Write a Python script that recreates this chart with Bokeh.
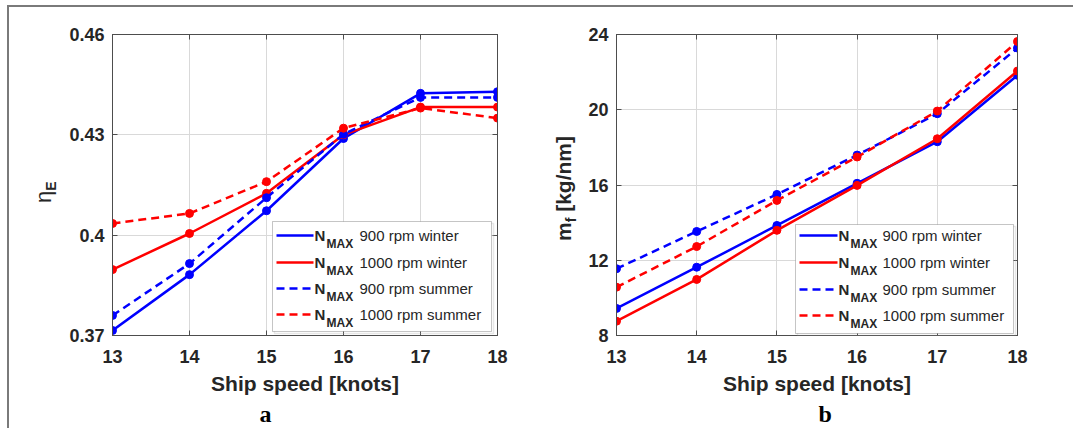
from bokeh.plotting import figure
from bokeh.models import (Range1d, LinearAxis, FixedTicker, Label, BoxAnnotation, Arrow,
                          Title, Div, InlineStyleSheet)
from bokeh.layouts import row
from bokeh.embed import file_html
from bokeh.resources import INLINE

# ---------------- data ----------------
speed = [13, 14, 15, 16, 17, 18]

eta_900_winter = [0.3715, 0.3882, 0.4073, 0.4289, 0.4424, 0.4429]
eta_1000_winter = [0.3897, 0.4005, 0.4125, 0.4300, 0.4383, 0.4383]
eta_900_summer = [0.3760, 0.3915, 0.4112, 0.4302, 0.4412, 0.4412]
eta_1000_summer = [0.4035, 0.4065, 0.4160, 0.4320, 0.4380, 0.4350]

mf_900_winter = [9.44, 11.63, 13.85, 16.09, 18.30, 21.83]
mf_1000_winter = [8.76, 10.98, 13.59, 15.98, 18.46, 22.06]
mf_900_summer = [11.55, 13.53, 15.50, 17.59, 19.79, 23.28]
mf_1000_summer = [10.57, 12.73, 15.18, 17.49, 19.93, 23.63]

x_ticks = [13, 14, 15, 16, 17, 18]
eta_ticks = [0.37, 0.40, 0.43, 0.46]
eta_tick_labels = {0.37: "0.37", 0.40: "0.4", 0.43: "0.43", 0.46: "0.46"}
mf_ticks = [8, 12, 16, 20, 24]

legend_names = ["900 rpm winter", "1000 rpm winter", "900 rpm summer", "1000 rpm summer"]
x_label = "Ship speed [knots]"

BLUE = "#0000ff"
RED = "#ff0000"
TXT = "#262626"
AX = "#4d4d4d"
SANS = "Liberation Sans"

styles = [(BLUE, "solid"), (RED, "solid"), (BLUE, "8 5"), (RED, "8 5")]


def make_fig(width, height, bl, bt, fw, fh, ymin, ymax, yticks, ylabels=None):
    p = figure(width=width, height=height, frame_width=fw, frame_height=fh,
               x_range=Range1d(13, 18), y_range=Range1d(ymin, ymax),
               output_backend="svg", toolbar_location=None,
               min_border_left=bl, min_border_top=bt,
               min_border_right=width - bl - fw, min_border_bottom=height - bt - fh)
    p.outline_line_color = AX
    p.outline_line_width = 1
    p.xaxis.ticker = FixedTicker(ticks=x_ticks)
    p.yaxis.ticker = FixedTicker(ticks=yticks)
    if ylabels:
        p.yaxis.major_label_overrides = ylabels
    for ax in (p.xaxis, p.yaxis):
        ax.axis_line_color = AX
        ax.major_tick_line_color = AX
        ax.major_tick_in = 5
        ax.major_tick_out = 0
        ax.minor_tick_line_color = None
        ax.major_label_text_font = SANS
        ax.major_label_text_font_style = "bold"
        ax.major_label_text_font_size = "18px"
        ax.major_label_text_color = TXT
    p.xaxis.major_label_standoff = 14
    p.yaxis.major_label_standoff = 8
    p.xaxis.axis_label = x_label
    p.xaxis.axis_label_text_font = SANS
    p.xaxis.axis_label_text_font_style = "bold"
    p.xaxis.axis_label_text_font_size = "21px"
    p.xaxis.axis_label_text_color = TXT
    p.xaxis.axis_label_standoff = 6
    # mirrored axes (ticks only)
    for loc, tk in (("right", yticks), ("above", x_ticks)):
        a = LinearAxis(ticker=FixedTicker(ticks=tk))
        a.axis_line_color = AX
        a.major_tick_line_color = AX
        a.major_tick_in = 5
        a.major_tick_out = 0
        a.minor_tick_line_color = None
        a.major_label_text_font_size = "0px"
        a.major_label_text_color = None
        a.major_label_standoff = 0
        p.add_layout(a, loc)
    p.grid.grid_line_color = "#d9d9d9"
    p.grid.grid_line_width = 1
    p.xgrid.ticker = FixedTicker(ticks=x_ticks)
    p.ygrid.ticker = FixedTicker(ticks=yticks)
    p.background_fill_color = "white"
    p.border_fill_color = "white"
    return p


def add_series(p, ys_list):
    for ys, (c, d) in zip(ys_list, styles):
        p.line(speed, ys, line_color=c, line_width=2.5, line_dash=d)
        p.scatter(speed, ys, size=8, fill_color=c, line_color=c)


def add_legend(p, fl, fb, box, rows_y, line_x, n_x, text_x):
    # image coords -> frame screen coords
    sx = lambda X: X - fl
    sy = lambda Y: fb - Y
    l, t, r, b = box
    p.add_layout(BoxAnnotation(left=sx(l + 2), right=sx(r + 2), top=sy(t + 2), bottom=sy(b + 2),
                               left_units="screen", right_units="screen", top_units="screen",
                               bottom_units="screen", fill_color=None, line_color="#b0b0b0",
                               line_width=1.5, level="annotation"))
    p.add_layout(BoxAnnotation(left=sx(l), right=sx(r), top=sy(t), bottom=sy(b),
                               left_units="screen", right_units="screen", top_units="screen",
                               bottom_units="screen", fill_color="white", fill_alpha=1.0,
                               line_color="#404040", line_width=1, level="annotation"))
    for name, yy, (c, d) in zip(legend_names, rows_y, styles):
        p.add_layout(Arrow(x_start=sx(line_x[0]), y_start=sy(yy), x_end=sx(line_x[1]), y_end=sy(yy),
                           start_units="screen", end_units="screen", end=None, start=None,
                           line_color=c, line_width=2.5, line_dash=d))
        p.add_layout(Label(x=sx(n_x), y=sy(yy), x_units="screen", y_units="screen", text="N",
                           text_font=SANS, text_font_style="bold", text_font_size="15px",
                           text_color=TXT, text_baseline="middle", text_align="left"))
        p.add_layout(Label(x=sx(n_x + 12), y=sy(yy + 8), x_units="screen", y_units="screen", text="MAX",
                           text_font=SANS, text_font_style="bold", text_font_size="12px",
                           text_color=TXT, text_baseline="middle", text_align="left"))
        p.add_layout(Label(x=sx(text_x), y=sy(yy), x_units="screen", y_units="screen", text=name,
                           text_font=SANS, text_font_size="15px",
                           text_color=TXT, text_baseline="middle", text_align="left"))


def add_panel_tag(p, offset, txt):
    p.add_layout(Title(text=txt, align="left", offset=offset, standoff=2,
                       text_font="Liberation Serif", text_font_style="bold",
                       text_font_size="24px", text_color="black"), "below")


def ylabel_div(width, height, left, top, html, size, weight):
    css = ("position:absolute; left:%dpx; top:%dpx; transform:rotate(-90deg); "
           "transform-origin:0 0; white-space:nowrap; font-family:'Liberation Sans'; "
           "font-size:%s; font-weight:%s; color:%s; line-height:24px;") % (left, top, size, weight, TXT)
    return Div(width=width, height=height, margin=0,
               text='<div style="%s">%s</div>' % (css, html),
               styles={"background-color": "white"})


H = 427
# ---------------- left: eta_E ----------------
# frame in image coords: x 112..497, y 34..335
d1 = ylabel_div(60, H, 32, 203,
                '\u03b7<sub style="font-size:14px; font-weight:bold;">E</sub>', "22px", "normal")
p1 = make_fig(470, H, 52, 34, 385, 301, 0.37, 0.46, eta_ticks, eta_tick_labels)
add_series(p1, [eta_900_winter, eta_1000_winter, eta_900_summer, eta_1000_summer])
add_legend(p1, 112, 335, (272, 221, 491, 331), [235, 262, 288, 314], (276, 313), 314, 359)
add_panel_tag(p1, 147, "a")

# ---------------- right: m_f ----------------
# frame in image coords: x 616..1017, y 34..335
d2 = ylabel_div(50, H, 22, 241,
                'm<sub style="font-size:14px;">f</sub> [kg/nm]', "21px", "bold")
p2 = make_fig(492, H, 36, 34, 401, 301, 8, 24, mf_ticks)
add_series(p2, [mf_900_winter, mf_1000_winter, mf_900_summer, mf_1000_summer])
add_legend(p2, 616, 335, (795, 224, 1013, 333), [235, 262, 289, 315], (799, 837), 838, 882)
add_panel_tag(p2, 202, "b")

frame_css = InlineStyleSheet(css=(
    ":host::after { content: ''; position: absolute; left: 7px; top: 5px; "
    "right: -20px; bottom: -20px; border-left: 2px solid #7a7a7a; "
    "border-top: 2px solid #7a7a7a; pointer-events: none; z-index: 50; }"))

layout = row(d1, p1, d2, p2, stylesheets=[frame_css])
open("out.html", "w").write(file_html(layout, INLINE))
